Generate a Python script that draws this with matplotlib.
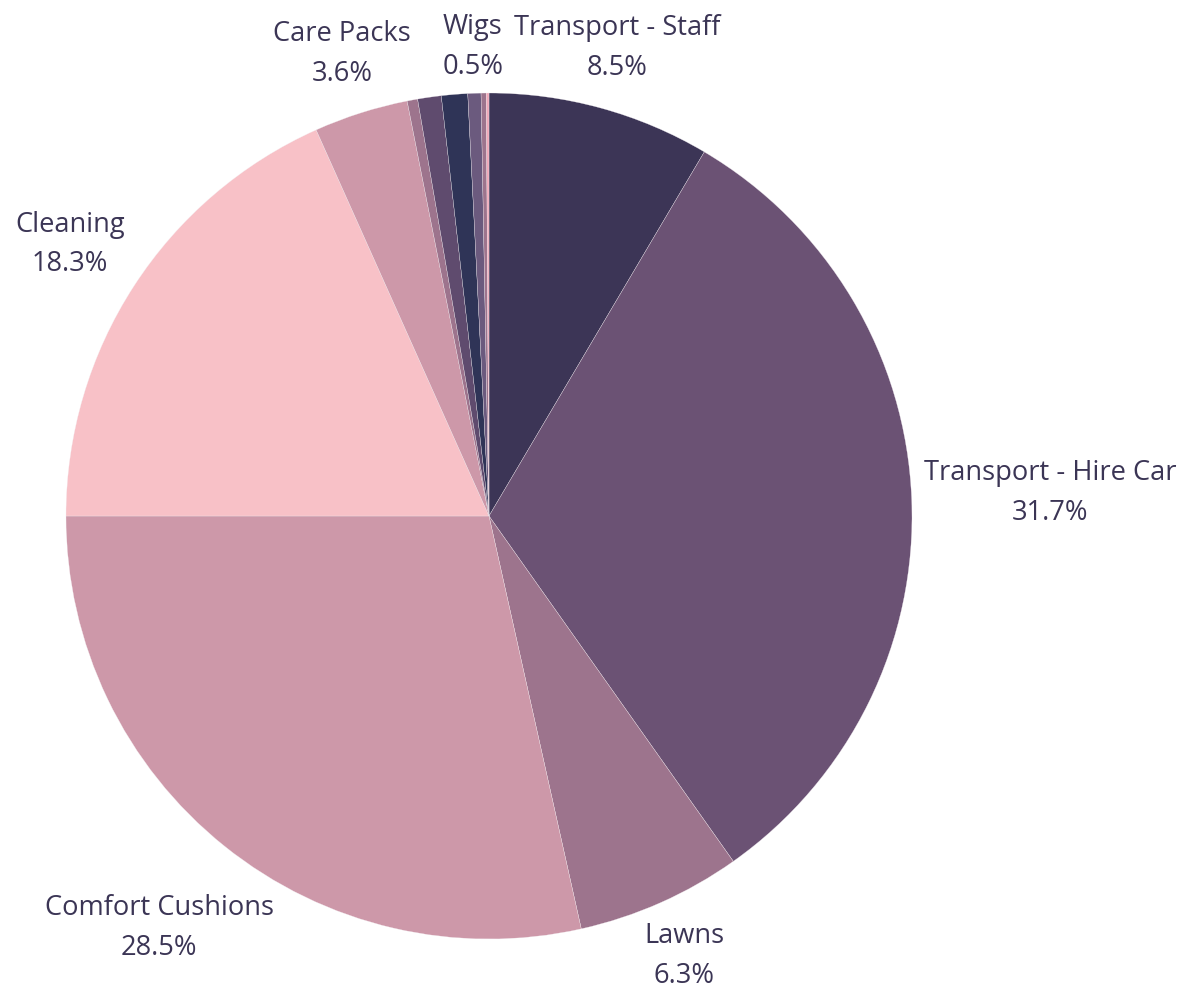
import matplotlib
matplotlib.use("Agg")
import matplotlib.pyplot as plt
import numpy as np

# ---------------- DATA ----------------
categories = ["Transport - Staff", "Transport - Hire Car", "Lawns", "Comfort Cushions",
              "Cleaning", "Care Packs", "Other A", "Other B", "Other C", "Wigs",
              "Other D", "Other E"]
shares = [8.5, 31.7, 6.3, 28.5, 18.3, 3.6, 0.4, 0.9, 1.0, 0.5, 0.2, 0.1]
show_label = [True, True, True, True, True, True, False, False, False, True, False, False]
colors = ["#3c3556", "#6b5274", "#9d748d", "#cd98a9", "#f8c1c7", "#cd98a9",
          "#9d748d", "#5f4b6e", "#2f3457", "#6b5a7e", "#9d748d", "#f0a8b8"]

TEXT_COLOR = "#3b3555"
W, H = 1198, 991
CX, CY, R = 489, 516, 423   # pie centre and radius in pixels
GAP = 12                     # gap between pie edge and label box (px)

fig = plt.figure(figsize=(W / 100, H / 100), dpi=100)
ax = fig.add_axes([0, 0, 1, 1])

wedges, _ = ax.pie(shares, colors=colors, startangle=90, counterclock=False,
                   radius=1.0, wedgeprops=dict(linewidth=0.2, edgecolor="#f4eef2"))

# pie() resets the limits, so set them afterwards
ax.set_xlim(-CX / R, (W - CX) / R)
ax.set_ylim(-(H - CY) / R, CY / R)
ax.set_aspect("equal")
ax.axis("off")

fig.canvas.draw()
renderer = fig.canvas.get_renderer()

# place labels on the mid-angle ray, pushed out until the box clears the pie
for w, name, val, show in zip(wedges, categories, shares, show_label):
    if not show:
        continue
    mid = np.radians((w.theta1 + w.theta2) / 2)
    ux, uy = np.cos(mid), np.sin(mid)
    txt = ax.text(0, 0, f"{name}\n{val:.1f}%", ha="center", va="center",
                  multialignment="center", fontsize=19.6, color=TEXT_COLOR,
                  family=["Open Sans", "DejaVu Sans"], linespacing=1.55)
    bb = txt.get_window_extent(renderer)
    hw, hh = bb.width / 2 / R, bb.height / 2 / R
    target = (R + GAP) / R
    lo, hi = 0.5, 3.0
    for _ in range(50):
        t = (lo + hi) / 2
        dx = max(abs(t * ux) - hw, 0)
        dy = max(abs(t * uy) - hh, 0)
        if np.hypot(dx, dy) < target:
            lo = t
        else:
            hi = t
    txt.set_position((hi * ux, hi * uy))

fig.savefig("out.png", dpi=100, facecolor="white")
